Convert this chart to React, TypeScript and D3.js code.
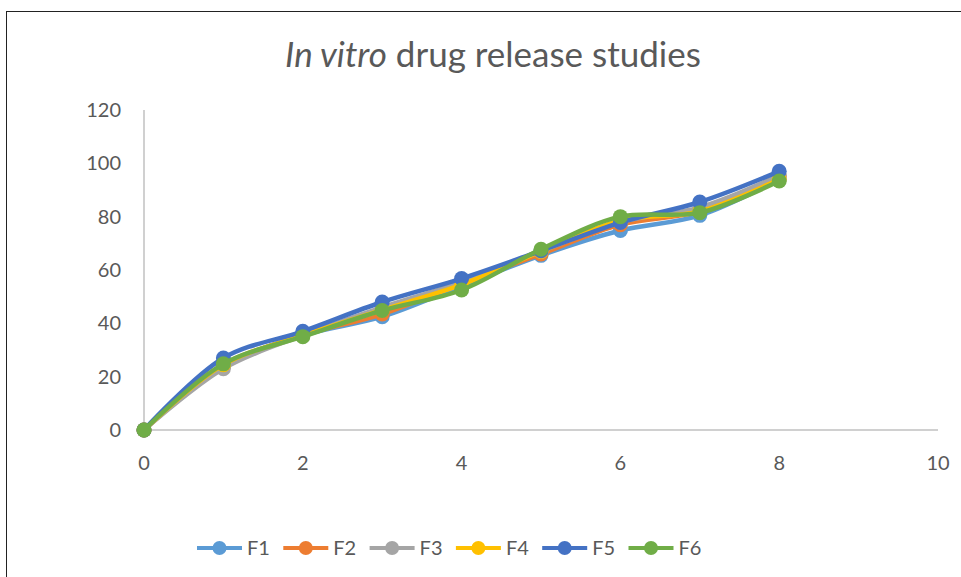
import React from "react";
import * as d3 from "d3";

// time points (h)
const times = [0, 1, 2, 3, 4, 5, 6, 7, 8];

// cumulative % release per formulation
const seriesNames = ["F1", "F2", "F3", "F4", "F5", "F6"];
const f1 = [0, 24, 35.5, 42.5, 54, 65.5, 74.8, 80.5, 94];
const f2 = [0, 24, 35.5, 43.5, 55, 66, 77, 82, 95];
const f3 = [0, 23, 35.5, 46, 55.5, 67, 78, 83.5, 95.5];
const f4 = [0, 24.5, 35.5, 45, 54.5, 67, 78.5, 82, 94];
const f5 = [0, 27, 37, 48, 56.8, 67.2, 77.8, 85.5, 97];
const f6 = [0, 24.8, 35, 44.8, 52.5, 67.8, 80, 81.5, 93.4];
const seriesValues = [f1, f2, f3, f4, f5, f6];
const colors = ["#5B9BD5", "#ED7D31", "#A5A5A5", "#FFC000", "#4472C4", "#70AD47"];

const xTicks = [0, 2, 4, 6, 8, 10];
const yTicks = [0, 20, 40, 60, 80, 100, 120];

const W = 961;
const H = 577;
const font = "Lato, 'Open Sans', sans-serif";
const textColor = "#595959";

const App = () => {
  const x = d3.scaleLinear().domain([0, 10]).range([144, 938]);
  const y = d3.scaleLinear().domain([0, 120]).range([430, 110]);

  const line = d3
    .line<number>()
    .x((d, i) => x(times[i]))
    .y((d) => y(d))
    .curve(d3.curveCatmullRom.alpha(0.5));

  // legend layout
  const legendX = d3.scaleLinear().domain([0, 1]).range([197, 283.3]);
  const legendY = 548;

  return (
    <svg
      width={W}
      height={H}
      style={{ position: "absolute", left: 0, top: 0, background: "#fff" }}
    >
      {/* chart frame */}
      <rect x={6.5} y={11.5} width={W + 10} height={H} fill="#fff" stroke="#222" strokeWidth={1} />

      {/* title */}
      <text
        x={493}
        y={67}
        textAnchor="middle"
        fontFamily={font}
        fontSize={35}
        fill={textColor}
      >
        <tspan fontStyle="italic">In vitro</tspan> drug release studies
      </text>

      {/* axes */}
      <line x1={x(0)} x2={x(0)} y1={y(120)} y2={y(0)} stroke="#D0D0D0" strokeWidth={2} />
      <line x1={x(0)} x2={x(10)} y1={y(0)} y2={y(0)} stroke="#D0D0D0" strokeWidth={2} />

      {yTicks.map((t) => (
        <text
          key={"y" + t}
          x={121}
          y={y(t)}
          dy="0.35em"
          textAnchor="end"
          fontFamily={font}
          fontSize={20}
          fill={textColor}
        >
          {t}
        </text>
      ))}
      {xTicks.map((t) => (
        <text
          key={"x" + t}
          x={x(t)}
          y={470}
          textAnchor="middle"
          fontFamily={font}
          fontSize={20}
          fill={textColor}
        >
          {t}
        </text>
      ))}

      {/* series */}
      {seriesValues.map((vals, si) => (
        <g key={seriesNames[si]}>
          <path d={line(vals) || ""} fill="none" stroke={colors[si]} strokeWidth={4.5} strokeLinejoin="round" />
          {vals.map((v, i) => (
            <circle key={i} cx={x(times[i])} cy={y(v)} r={7.5} fill={colors[si]} />
          ))}
        </g>
      ))}

      {/* legend */}
      {seriesNames.map((name, i) => {
        const lx = legendX(i);
        return (
          <g key={"leg" + name}>
            <line x1={lx} x2={lx + 45} y1={legendY} y2={legendY} stroke={colors[i]} strokeWidth={4} />
            <circle cx={lx + 22.5} cy={legendY} r={7} fill={colors[i]} />
            <text
              x={lx + 50}
              y={legendY}
              dy="0.35em"
              fontFamily={font}
              fontSize={20}
              fill={textColor}
            >
              {name}
            </text>
          </g>
        );
      })}
    </svg>
  );
};

export default App;
